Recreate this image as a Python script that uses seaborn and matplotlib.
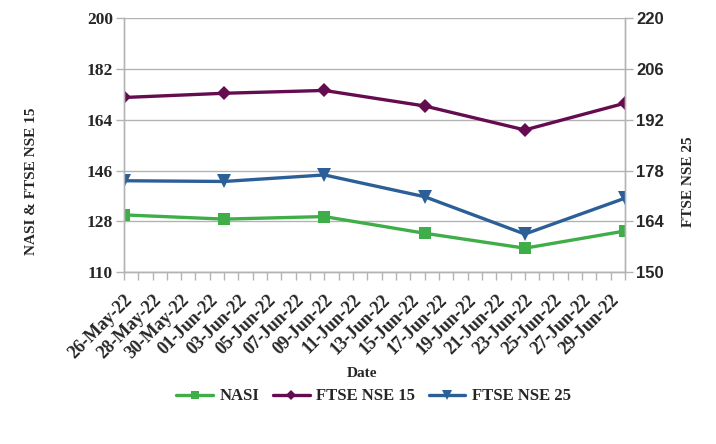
import pandas as pd
import matplotlib.pyplot as plt
import matplotlib.dates as mdates
import seaborn as sns

sns.set_theme(style="white")
plt.rcParams['font.family'] = ['Liberation Serif', 'DejaVu Serif']

# values
dates = ["2022-05-26", "2022-06-02", "2022-06-09", "2022-06-16", "2022-06-23", "2022-06-30"]
nasi = [130.3, 128.8, 129.7, 123.8, 118.5, 124.6]
ftse15 = [171.9, 173.4, 174.4, 168.9, 160.4, 169.9]
ftse25 = [175.2, 175.0, 176.8, 170.8, 160.5, 170.4]

data = pd.DataFrame({'Date': pd.to_datetime(dates), 'NASI': nasi,
                     'FTSE NSE 15': ftse15, 'FTSE NSE 25': ftse25})

green = '#3fae49'
purple = '#650b4f'
blue = '#2c5f98'
grey = '#b3b3b3'

fig = plt.figure(figsize=(7.16, 4.44), dpi=100)
ax = fig.add_axes([0.173, 0.387, 0.70, 0.572])
ax2 = ax.twinx()

sns.lineplot(x='Date', y='NASI', data=data, ax=ax, color=green, linewidth=2.4,
             marker='s', markersize=9, markeredgewidth=0, label='NASI', legend=False)
sns.lineplot(x='Date', y='FTSE NSE 15', data=data, ax=ax, color=purple, linewidth=2.4,
             marker='D', markersize=7.5, markeredgewidth=0, label='FTSE NSE 15', legend=False)
sns.lineplot(x='Date', y='FTSE NSE 25', data=data, ax=ax2, color=blue, linewidth=2.4,
             marker='v', markersize=10, markeredgewidth=0, label='FTSE NSE 25', legend=False)

ax.set_xlim(pd.Timestamp('2022-05-26'), pd.Timestamp('2022-06-30'))
ax.set_ylim(110, 200)
ax.set_yticks([110, 128, 146, 164, 182, 200])
ax2.set_ylim(150, 220)
ax2.set_yticks([150, 164, 178, 192, 206, 220])

ax.xaxis.set_major_locator(mdates.DayLocator(interval=2))
ax.xaxis.set_minor_locator(mdates.DayLocator())
ax.xaxis.set_major_formatter(mdates.DateFormatter('%d-%b-%y'))
plt.setp(ax.get_xticklabels(), rotation=45, ha='right', rotation_mode='anchor',
         fontsize=13, fontweight='bold')

ax.grid(axis='y', color=grey, linewidth=1)
ax.set_axisbelow(True)
for a in (ax, ax2):
    a.spines['top'].set_visible(False)
    for s in ('left', 'right', 'bottom'):
        a.spines[s].set_color(grey)
        a.spines[s].set_linewidth(1)

ax.tick_params(axis='x', which='both', bottom=True, length=6, color=grey, width=1, pad=8)
ax.tick_params(axis='y', left=True, length=6, color=grey, width=1, labelsize=12.5, pad=2)
for t in ax.get_yticklabels():
    t.set_fontweight('bold')
ax2.tick_params(axis='y', right=True, length=6, color=grey, width=1, labelsize=12, pad=2)
for t in ax2.get_yticklabels():
    t.set_fontweight('bold')
    t.set_family('Liberation Sans')

ax.set_xlabel('Date', fontsize=11, fontweight='bold')
ax.xaxis.set_label_coords(0.475, -0.375)
ax.set_ylabel('NASI & FTSE NSE 15', fontsize=11, fontweight='bold')
ax.yaxis.set_label_coords(-0.172, 0.358)
ax2.set_ylabel('FTSE NSE 25', fontsize=11, fontweight='bold')
ax2.yaxis.set_label_coords(1.114, 0.358)

h1, l1 = ax.get_legend_handles_labels()
h2, l2 = ax2.get_legend_handles_labels()
fig.legend(h1 + h2, l1 + l2, loc='center', bbox_to_anchor=(0.522, 0.107), ncol=3,
           frameon=False, prop={'weight': 'bold', 'size': 12}, handlelength=2.2,
           columnspacing=0.8, handletextpad=0.4, markerscale=0.7)

fig.savefig('out.png', dpi=100)
